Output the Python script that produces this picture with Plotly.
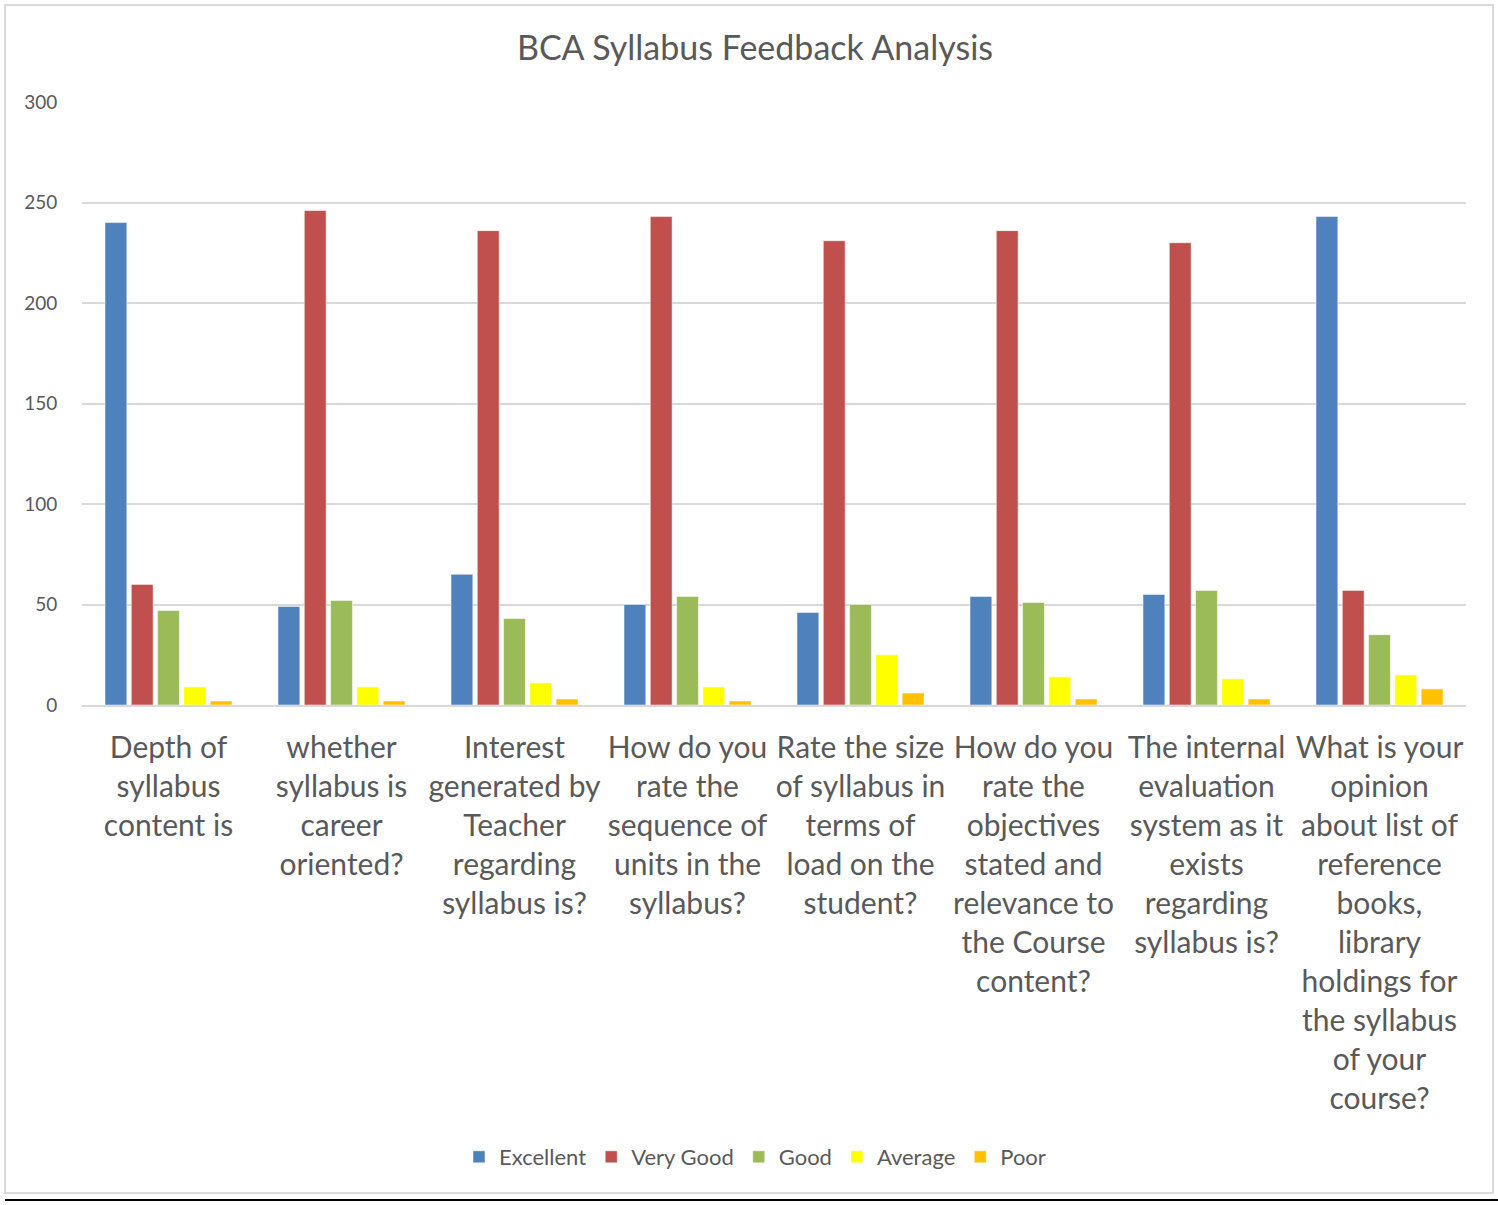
import plotly.graph_objects as go

questions = [
    "Depth of<br>syllabus<br>content is",
    "whether<br>syllabus is<br>career<br>oriented?",
    "Interest<br>generated by<br>Teacher<br>regarding<br>syllabus is?",
    "How do you<br>rate the<br>sequence of<br>units in the<br>syllabus?",
    "Rate the size<br>of syllabus in<br>terms of<br>load on the<br>student?",
    "How do you<br>rate the<br>objectives<br>stated and<br>relevance to<br>the Course<br>content?",
    "The internal<br>evaluation<br>system as it<br>exists<br>regarding<br>syllabus is?",
    "What is your<br>opinion<br>about list of<br>reference<br>books,<br>library<br>holdings for<br>the syllabus<br>of your<br>course?",
]

excellent = [240, 49, 65, 50, 46, 54, 55, 243]
very_good = [60, 246, 236, 243, 231, 236, 230, 57]
good = [47, 52, 43, 54, 50, 51, 57, 35]
average = [9, 9, 11, 9, 25, 14, 13, 15]
poor = [2, 2, 3, 2, 6, 3, 3, 8]

series = [
    ("Excellent", excellent, "#4F81BD"),
    ("Very Good", very_good, "#C0504D"),
    ("Good", good, "#9BBB59"),
    ("Average", average, "#FFFF00"),
    ("Poor", poor, "#FFC000"),
]

txt = "#595959"
font = "Lato, 'Open Sans', sans-serif"

fig = go.Figure()
for name, vals, color in series:
    fig.add_trace(
        go.Bar(
            x=questions,
            y=vals,
            name=name,
            marker=dict(color=color, line=dict(color="white", width=0.5)),
        )
    )

fig.update_layout(
    width=1498,
    height=1205,
    margin=dict(l=82, r=32, t=102, b=500),
    paper_bgcolor="white",
    plot_bgcolor="white",
    font=dict(family=font, color=txt),
    barmode="group",
    bargap=0.24,
    bargroupgap=0.17,
    title=dict(
        text="BCA Syllabus Feedback Analysis",
        x=0.504,
        xanchor="center",
        y=1 - 48 / 1205,
        yanchor="middle",
        font=dict(size=34, color=txt),
    ),
    legend=dict(
        orientation="h",
        x=(755 - 82) / 1384,
        xanchor="center",
        y=(705 - 1157) / 603,
        yanchor="middle",
        font=dict(size=22, color=txt),
        itemwidth=30,
    ),
    shapes=[
        dict(
            type="rect", xref="paper", yref="paper",
            x0=(5 - 82) / 1384, x1=(1493 - 82) / 1384,
            y0=(705 - 1193) / 603, y1=(705 - 5) / 603,
            line=dict(color="#d9d9d9", width=2), layer="below",
        ),
        dict(
            type="line", xref="paper", yref="paper",
            x0=(5 - 82) / 1384, x1=(1498 - 82) / 1384,
            y0=(705 - 1200) / 603, y1=(705 - 1200) / 603,
            line=dict(color="black", width=2),
        ),
    ],
)
fig.update_xaxes(
    tickangle=0,
    tickfont=dict(size=30, color=txt),
    ticklabelstandoff=15,
    showline=True,
    linecolor="#d9d9d9",
    linewidth=2,
    ticks="",
)
fig.update_yaxes(
    range=[0, 300],
    dtick=50,
    gridcolor="#d9d9d9",
    gridwidth=1.5,
    zeroline=False,
    tickfont=dict(size=19, color=txt),
    ticks="outside",
    tickcolor="white",
    ticklen=20,
)

fig.write_html(
    "out.html",
    config={"displayModeBar": False},
    post_script="document.body.style.margin='0';",
)
